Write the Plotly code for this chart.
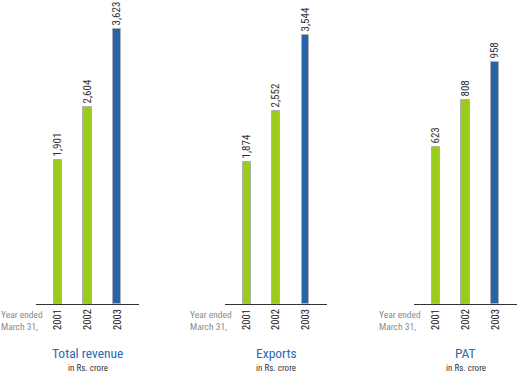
import plotly.graph_objects as go

years = ["2001", "2002", "2003"]
revenue = [1901, 2604, 3623]
exports = [1874, 2552, 3544]
pat = [623, 808, 958]
titles = ["Total revenue", "Exports", "PAT"]
subtitle = "in Rs. crore"
year_note = "Year ended<br>March 31,"

W, H = 517, 374
GREEN = "#9acd1a"
BLUE = "#2563ad"
FONT = "Roboto Condensed, Liberation Sans, sans-serif"

fig = go.Figure()

series = [revenue, exports, pat]
xdomains = [[36 / W, 139 / W], [225 / W, 327 / W], [414 / W, 1.0]]
yranges = [[0, 4010], [0, 4010], [0, 1205]]
colors = [GREEN, GREEN, BLUE]

for i, vals in enumerate(series):
    xa = "x" if i == 0 else f"x{i+1}"
    ya = "y" if i == 0 else f"y{i+1}"
    fig.add_trace(go.Bar(
        x=years, y=vals, xaxis=xa, yaxis=ya,
        width=0.27,
        marker=dict(color=colors, line=dict(color="#b0b0b0", width=1)),
        text=[f"{v:,}" for v in vals],
        textposition="outside", textangle=-90, constraintext="none",
        textfont=dict(family=FONT, size=11, color="#333333"),
        cliponaxis=False, showlegend=False, hoverinfo="skip",
    ))
    xkey = "xaxis" if i == 0 else f"xaxis{i+1}"
    ykey = "yaxis" if i == 0 else f"yaxis{i+1}"
    fig.layout[xkey] = dict(
        domain=xdomains[i], anchor=ya, type="category",
        range=[-0.73, 2.73], showline=True, linecolor="#333333", linewidth=1,
        showgrid=False, zeroline=False, ticks="", tickangle=-90,
        tickfont=dict(family=FONT, size=10.5, color="#222222"),
        fixedrange=True,
    )
    fig.layout[ykey] = dict(
        domain=[70 / H, 1.0], anchor=xa, range=yranges[i],
        visible=False, showgrid=False, zeroline=False, fixedrange=True,
    )
    # centre titles on the middle category (index 1)
    fig.add_annotation(
        xref=xa, yref="paper", x=1, y=(H - 362) / H, yanchor="bottom",
        text=titles[i], showarrow=False, borderpad=0,
        font=dict(family=FONT, size=13.5, color="#2a6ab3"),
    )
    fig.add_annotation(
        xref=xa, yref="paper", x=1, y=(H - 362) / H, yanchor="top",
        text=subtitle, showarrow=False, borderpad=0,
        font=dict(family=FONT, size=9, color="#333333"),
    )
    left_px = xdomains[i][0] * W - 36
    fig.add_annotation(
        xref="paper", yref="paper", x=max(left_px, 0.0) / W,
        y=(H - 320.5) / H,
        xanchor="left", yanchor="middle", align="left",
        text=year_note, showarrow=False, borderpad=0,
        font=dict(family=FONT, size=9.5, color="#8a8a8a"),
    )

fig.update_layout(
    width=W, height=H,
    margin=dict(l=0, r=0, t=0, b=0),
    paper_bgcolor="white", plot_bgcolor="white",
    bargap=0,
)

fig.write_html("out.html", config={"displayModeBar": False},
               post_script="document.body.style.margin='0px';document.body.style.overflow='hidden';")
